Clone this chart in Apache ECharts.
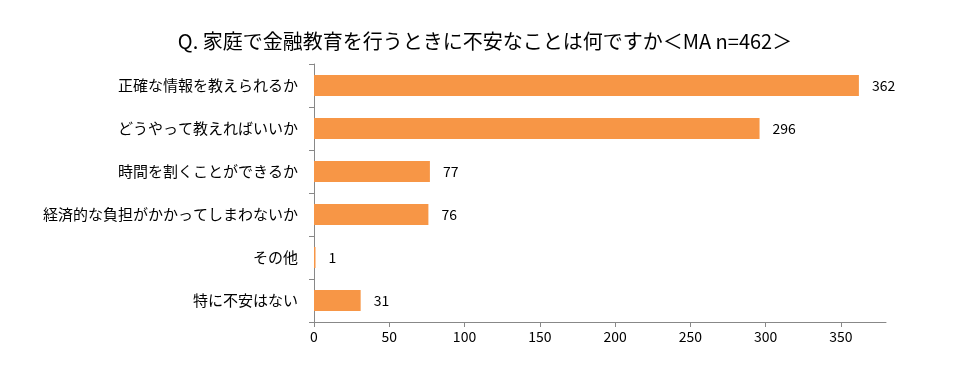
<!DOCTYPE html>
<html><head><meta charset="utf-8">
<script src="https://cdn.jsdelivr.net/npm/echarts@6/dist/echarts.min.js"></script>
<style>html,body{margin:0;padding:0;background:#fff}#c{width:972px;height:367px}</style>
</head><body><div id="c"></div>
<script>
const titleText = "Q. 家庭で金融教育を行うときに不安なことは何ですか＜MA n=462＞";
const categories = ["正確な情報を教えられるか","どうやって教えればいいか","時間を割くことができるか","経済的な負担がかかってしまわないか","その他","特に不安はない"];
const values = [362, 296, 77, 76, 1, 31];
const axisMax = 380;
const axisInterval = 50;
const font = '"Noto Sans CJK JP", "Noto Sans", sans-serif';
const chart = echarts.init(document.getElementById('c'));
chart.setOption({
  animation: false,
  textStyle: {fontFamily: font},
  title: {text: titleText, left: 480, textAlign: 'center', top: 26,
    textStyle: {fontSize: 20, fontWeight: 'normal', color: '#000', fontFamily: font}},
  grid: {left: 314, right: 86, top: 64, bottom: 45, containLabel: false},
  xAxis: {type: 'value', min: 0, max: axisMax, interval: axisInterval,
    axisLine: {show: true, lineStyle: {color: '#888', width: 1}},
    axisTick: {show: true, length: 5, lineStyle: {color: '#888'}},
    splitLine: {show: false},
    axisLabel: {showMaxLabel: false, color: '#000', fontSize: 14, margin: 8, fontFamily: font}},
  yAxis: {type: 'category', data: categories, inverse: true,
    axisLine: {show: true, lineStyle: {color: '#888', width: 1}},
    axisTick: {show: true, length: 5, lineStyle: {color: '#888'}},
    axisLabel: {color: '#000', fontSize: 15, margin: 16, fontFamily: font}},
  series: [{type: 'bar', data: values, barWidth: 21,
    itemStyle: {color: '#F79646'},
    label: {show: true, position: 'right', distance: 13, color: '#000', fontSize: 14, fontFamily: font}}]
});
</script></body></html>
